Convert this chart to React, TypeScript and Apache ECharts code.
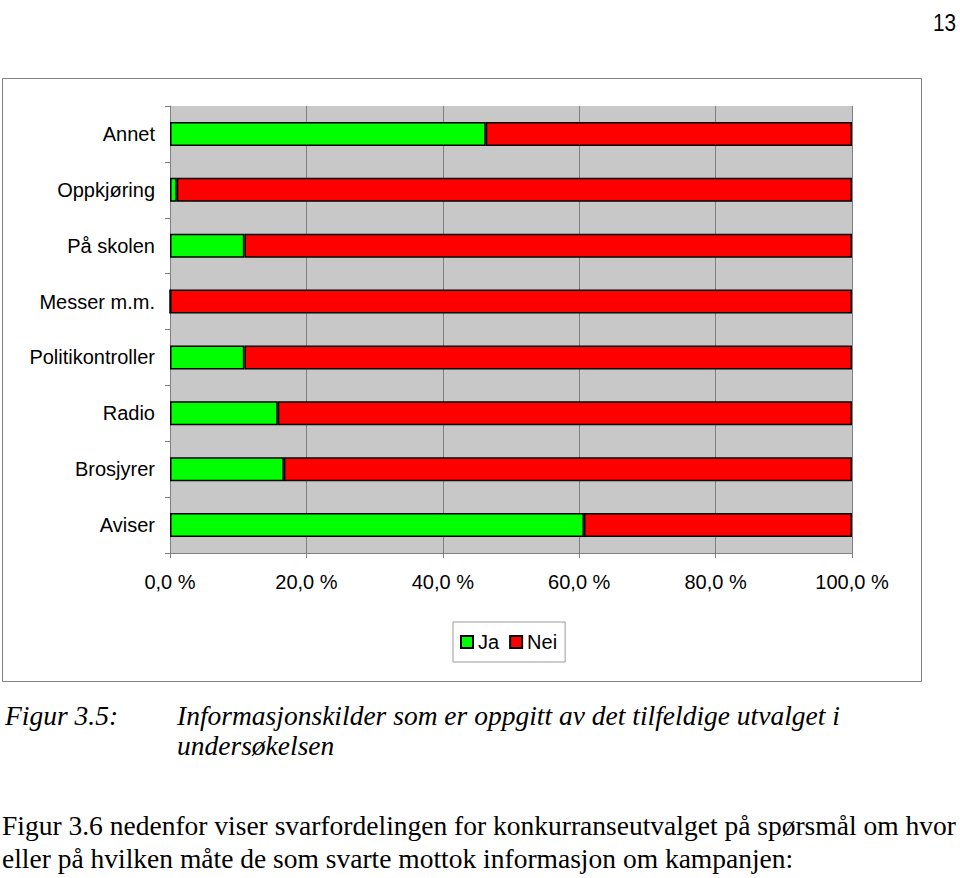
import React, { useEffect, useRef } from "react";
import * as echarts from "echarts";

const categories = ["Aviser", "Brosjyrer", "Radio", "Politikontroller", "Messer m.m.", "På skolen", "Oppkjøring", "Annet"];
const jaValues = [60.7, 16.7, 15.8, 10.9, 0.0, 10.9, 1.0, 46.3];
const neiValues = [39.3, 83.3, 84.2, 89.1, 100.0, 89.1, 99.0, 53.7];

export default function App() {
  const ref = useRef<HTMLDivElement>(null);
  useEffect(() => {
    document.body.style.margin = "0";
    const chart = echarts.init(ref.current!, null, { renderer: "svg" });
    const sans = "Liberation Sans";
    const serif = "Liberation Serif";
    chart.setOption({
      animation: false,
      backgroundColor: "#ffffff",
      grid: { left: 170, top: 106, width: 682, height: 447, containLabel: false, show: true, backgroundColor: "#c8c8c8", borderWidth: 0 },
      xAxis: {
        type: "value",
        min: 0,
        max: 100,
        interval: 20,
        axisLine: { show: true, lineStyle: { color: "#808080" } },
        axisTick: { show: true, length: 5, lineStyle: { color: "#808080" } },
        splitLine: { show: true, lineStyle: { color: "#808080", width: 1 } },
        axisLabel: { formatter: (v: number) => v.toFixed(1).replace(".", ",") + " %", color: "#000", fontFamily: sans, fontSize: 20, margin: 19 },
      },
      yAxis: {
        type: "category",
        data: categories,
        axisLine: { show: true, lineStyle: { color: "#808080" } },
        axisTick: { show: true, length: 5, lineStyle: { color: "#808080" } },
        axisLabel: { color: "#000", fontFamily: sans, fontSize: 20, margin: 15 },
      },
      legend: {
        data: ["Ja", "Nei"],
        left: 453,
        top: 622,
        orient: "horizontal",
        itemWidth: 12,
        itemHeight: 12,
        itemGap: 10,
        icon: "rect",
        borderColor: "#999",
        borderWidth: 1,
        padding: [10, 8, 10, 7],
        textStyle: { fontFamily: sans, fontSize: 20, color: "#000" },
      },
      series: [
        {
          name: "Ja",
          type: "bar",
          stack: "s",
          data: jaValues,
          barWidth: 24,
          itemStyle: { color: "#00ff00", borderColor: "#000", borderWidth: 1.5 },
        },
        {
          name: "Nei",
          type: "bar",
          stack: "s",
          data: neiValues,
          barWidth: 24,
          itemStyle: { color: "#ff0000", borderColor: "#000", borderWidth: 1.5 },
        },
      ],
      graphic: [
        { type: "rect", shape: { x: 2.5, y: 78.5, width: 919, height: 603 }, style: { fill: "none", stroke: "#808080", lineWidth: 1 }, z: -1 },
        { type: "text", x: 956, y: 12, scaleX: 0.9, style: { text: "13", font: `23px ${sans}`, fill: "#000", textAlign: "right", textVerticalAlign: "top" } },
        { type: "text", x: 5, y: 702, style: { text: "Figur 3.5:", font: `italic 27.5px ${serif}`, fill: "#000", textVerticalAlign: "top" } },
        { type: "text", x: 177, y: 702, style: { text: "Informasjonskilder som er oppgitt av det tilfeldige utvalget i", font: `italic 27.5px ${serif}`, fill: "#000", textVerticalAlign: "top" } },
        { type: "text", x: 177, y: 732, style: { text: "undersøkelsen", font: `italic 27.5px ${serif}`, fill: "#000", textVerticalAlign: "top" } },
        { type: "text", x: 2, y: 825, style: { text: "Figur 3.6 nedenfor viser svarfordelingen for konkurranseutvalget på spørsmål om hvor", font: `27.5px ${serif}`, fill: "#000", textVerticalAlign: "middle" } },
        { type: "text", x: 2, y: 858, style: { text: "eller på hvilken måte de som svarte mottok informasjon om kampanjen:", font: `27.5px ${serif}`, fill: "#000", textVerticalAlign: "middle" } },
      ],
    });
    return () => chart.dispose();
  }, []);
  return <div ref={ref} style={{ position: "absolute", left: 0, top: 0, width: 960, height: 878 }} />;
}
